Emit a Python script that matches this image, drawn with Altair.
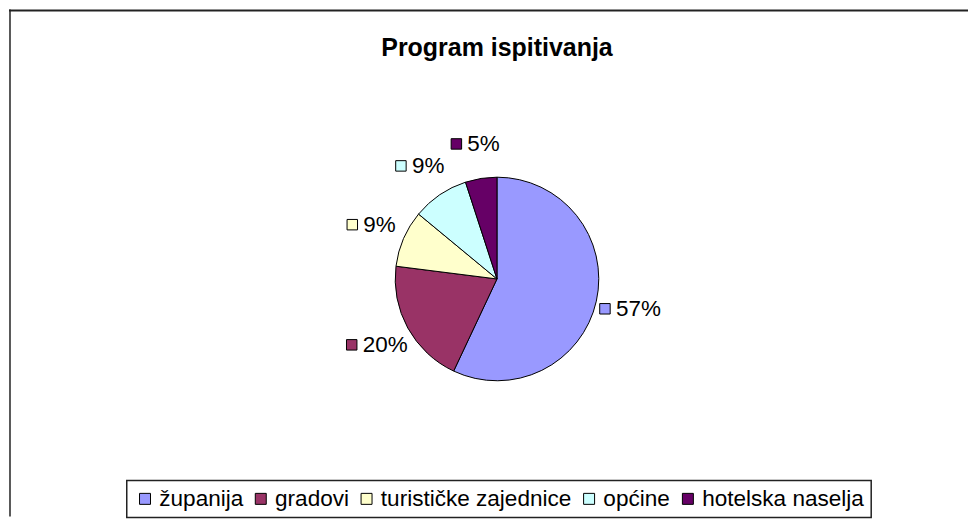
import altair as alt
import pandas as pd

title_text = "Program ispitivanja"
categories = ["županija", "gradovi", "turističke zajednice", "općine", "hotelska naselja"]
values = [57, 20, 9, 9, 5]
colors = ["#9999FF", "#993366", "#FFFFCC", "#CCFFFF", "#660066"]

FONT = "Liberation Sans"
W, H = 961, 508
CX, CY = 489, 270
R = 102
RL = 137          # radius of label-group centres
FS = 22.5         # label font size

df = pd.DataFrame({"cat": categories, "value": values, "idx": list(range(len(values)))})

color_scale = alt.Scale(domain=categories, range=colors)
leg = alt.Legend(
    title=None, orient="none", legendX=118, legendY=472, direction="horizontal",
    columns=5, symbolType="square", symbolSize=121, symbolStrokeColor="black",
    symbolStrokeWidth=1, labelFont=FONT, labelFontSize=22.6, labelColor="black",
    labelOffset=3, columnPadding=6, labelLimit=400, fillColor="white",
    strokeColor="#222", padding=7,
)

base = alt.Chart(df)

pie = base.mark_arc(outerRadius=R, stroke="black", strokeWidth=1).encode(
    theta=alt.Theta("value:Q", stack=True),
    color=alt.Color("cat:N", scale=color_scale, legend=leg),
    order=alt.Order("idx:Q"),
    x=alt.value(CX),
    y=alt.value(CY),
)

lab = base.transform_joinaggregate(
    total="sum(value)"
).transform_window(
    cum="sum(value)", sort=[alt.SortField("idx")], frame=[None, 0]
).transform_calculate(
    label="datum.value + '%'",
    mid="(datum.cum - datum.value/2) / datum.total * 2 * PI",
).transform_calculate(
    gx=f"{CX} + {RL} * sin(datum.mid)",
    gy=f"{CY} - {RL} * cos(datum.mid)",
    tw=f"{FS} * (0.556 * (length(datum.label) - 1) + 0.889)",
).transform_calculate(
    left="datum.gx - (16 + datum.tw) / 2",
).transform_calculate(
    sqx="datum.left + 5",
    tx="datum.left + 16",
)

squares = lab.mark_square(size=110, stroke="black", strokeWidth=1, opacity=1).encode(
    x=alt.X("sqx:Q", scale=None, axis=None),
    y=alt.Y("gy:Q", scale=None, axis=None),
    color=alt.Color("cat:N", scale=color_scale, legend=leg),
)

texts = lab.mark_text(align="left", baseline="middle", font=FONT, fontSize=FS, color="black").encode(
    x=alt.X("tx:Q", scale=None, axis=None),
    y=alt.Y("gy:Q", scale=None, axis=None),
    text="label:N",
)

one = alt.Data(values=[{"t": title_text}])
title = alt.Chart(one).mark_text(
    font=FONT, fontSize=25, fontWeight="bold", align="center", baseline="alphabetic", color="black"
).encode(x=alt.value(CX), y=alt.value(47), text="t:N")

top_line = alt.Chart(one).mark_rule(color="#222", strokeWidth=2).encode(
    x=alt.value(0), x2=alt.value(W), y=alt.value(1)
)
left_line = alt.Chart(one).mark_rule(color="#222", strokeWidth=1.5).encode(
    x=alt.value(1), y=alt.value(0), y2=alt.value(H)
)

chart = alt.layer(top_line, left_line, title, pie, squares, texts).properties(
    width=W, height=H, padding=0, background="white"
).configure_view(stroke=None).configure_legend(strokeWidth=1.5)

chart.save("out.html", embed_options={"renderer": "svg", "actions": False})
